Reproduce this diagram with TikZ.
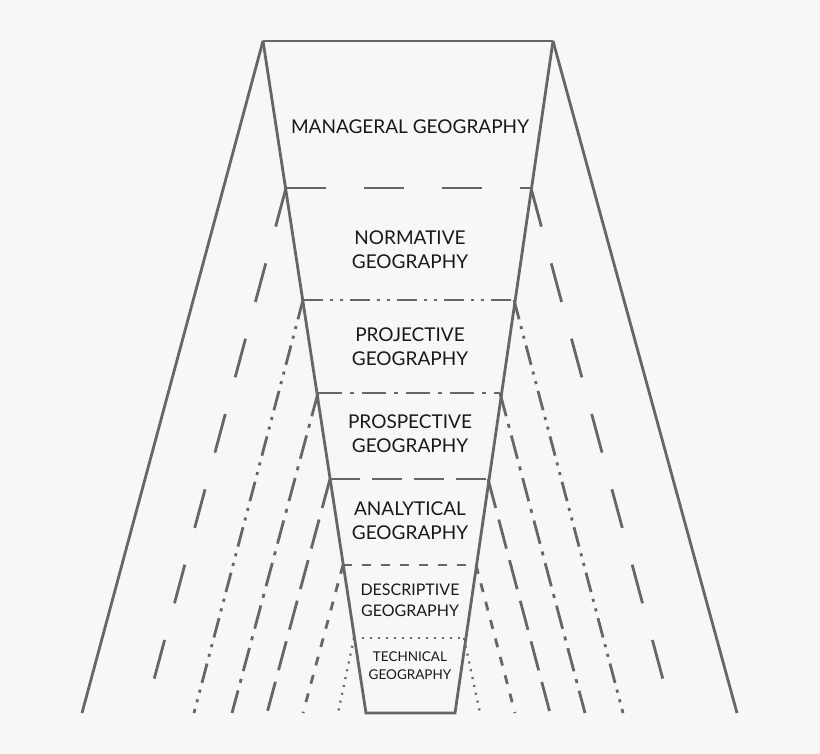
\documentclass[tikz,border=0pt]{standalone}
\usepackage{fontspec}
\setmainfont{Lato}
\begin{document}
\begin{tikzpicture}[x=1pt,y=-1pt,
  ln/.style={draw=black!60,line width=2.8pt},
  ldash/.style={ln,dash pattern=on 40pt off 38pt},
  ddot/.style={ln,dash pattern=on 20pt off 7pt on 3pt off 7pt on 3pt off 7pt},
  dashdot/.style={ln,dash pattern=on 24pt off 8pt on 4pt off 8pt},
  sdash/.style={ln,dash pattern=on 9pt off 10pt},
  dotl/.style={draw=black!60,line width=2.3pt,dash pattern=on 2pt off 6pt},
  lbl/.style={text=black!90,align=center,font=\fontsize{19}{24}\selectfont}]
\fill[black!3] (0,0) rectangle (820,754);
\useasboundingbox (0,0) rectangle (820,754);
\coordinate (TL) at (263,41); \coordinate (TR) at (553,41);
\coordinate (BL) at (366,713); \coordinate (BR) at (455,713);
\draw[ln,line width=1.8pt] (TL) -- (TR);
\draw[ln] (TL) -- (82,713);
\draw[ln] (TR) -- (737,713);
\draw[ln] (TL) -- (BL) -- (BR) -- (TR);
% levels
\coordinate (a1) at (286,188); \coordinate (b1) at (531,188);
\coordinate (a2) at (303,300); \coordinate (b2) at (514,300);
\coordinate (a3) at (318,393); \coordinate (b3) at (500,393);
\coordinate (a4) at (330,479); \coordinate (b4) at (488,479);
\coordinate (a5) at (343,565); \coordinate (b5) at (476,565);
\coordinate (a6) at (354,638); \coordinate (b6) at (464,638);
\draw[ldash] (a1) -- (b1);
\draw[ldash] (a1) -- (145,713); \draw[ldash] (b1) -- (672,713);
\draw[ddot] (a2) -- (b2);
\draw[ddot] (a2) -- (194,713); \draw[ddot] (b2) -- (623,713);
\draw[dashdot] (a3) -- (b3);
\draw[dashdot] (a3) -- (232,713); \draw[dashdot] (b3) -- (585,713);
\draw[ldash,dash pattern=on 30pt off 12pt] (a4) -- (b4);
\draw[ldash,dash pattern=on 30pt off 12pt] (a4) -- (267,713); \draw[ldash,dash pattern=on 30pt off 12pt] (b4) -- (550,713);
\draw[sdash] (a5) -- (b5);
\draw[sdash] (a5) -- (303,713); \draw[sdash] (b5) -- (515,713);
\draw[dotl] (a6) -- (b6);
\draw[dotl] (a6) -- (338,713); \draw[dotl] (b6) -- (480,713);
% labels
\node[lbl] (m) at (410,127) {MANAGERAL GEOGRAPHY};
\node[lbl] (n) at (410,250) {NORMATIVE\\GEOGRAPHY};
\node[lbl] (p) at (410,347) {PROJECTIVE\\GEOGRAPHY};
\node[lbl] (ps) at (410,434) {PROSPECTIVE\\GEOGRAPHY};
\node[lbl] (an) at (410,521) {ANALYTICAL\\GEOGRAPHY};
\node[lbl,font=\fontsize{16}{21}\selectfont] (d) at (410,600) {DESCRIPTIVE\\GEOGRAPHY};
\node[lbl,font=\fontsize{13.5}{18}\selectfont] (t) at (410,666) {TECHNICAL\\GEOGRAPHY};
\end{tikzpicture}
\end{document}
